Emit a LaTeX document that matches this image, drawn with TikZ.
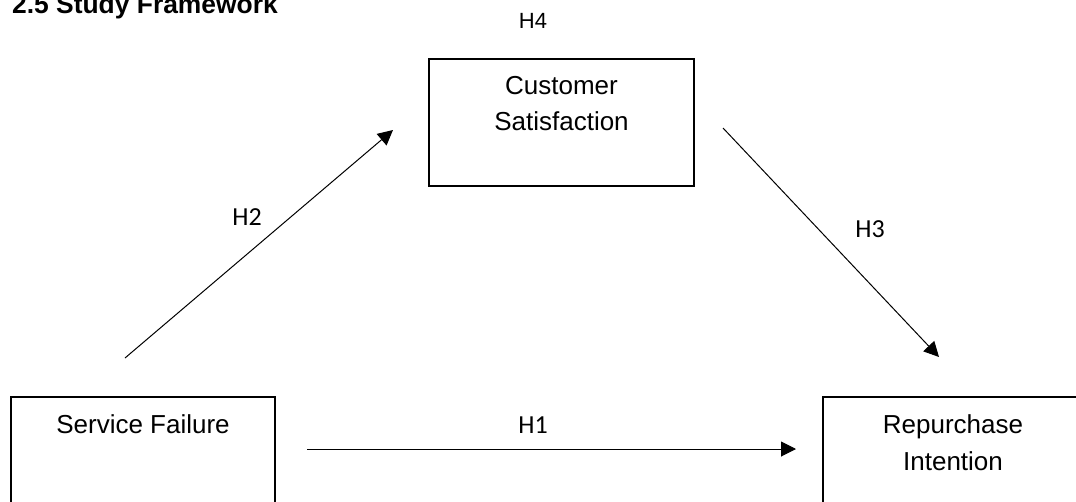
\documentclass[tikz,border=0pt]{standalone}
\usepackage{fontspec}
\setmainfont{Liberation Sans}
\newfontfamily\hfont{Carlito}
\usetikzlibrary{arrows.meta}
\begin{document}
\begin{tikzpicture}[x=1pt,y=-1pt,
  boxshape/.style={draw=black, line width=1.2pt, fill=none},
  boxtext/.style={anchor=base, inner sep=0pt, font=\fontsize{26}{30}\selectfont},
  hlabel/.style={anchor=base, inner sep=0pt, font=\hfont\fontsize{26}{30}\selectfont},
  arr/.style={draw=black, line width=1pt, -{Triangle[length=15pt,width=15pt]}}]
\useasboundingbox (0,0) rectangle (1076,501);
\clip (0,0) rectangle (1076,501);
% title
\node[anchor=base west, inner sep=0pt, font=\bfseries\fontsize{26.4}{30}\selectfont] (title) at (12,13) {2.5 Study Framework};
% boxes
\draw[boxshape] (429,59) rectangle (694,186);
\node[inner sep=0pt, minimum width=265pt, minimum height=127pt] (cs) at (561.5,122.5) {};
\draw[boxshape] (11,397) rectangle (275,560);
\node[inner sep=0pt, minimum width=264pt, minimum height=104pt] (sf) at (143,449) {};
\draw[boxshape] (823,397) rectangle (1100,560);
\node[inner sep=0pt, minimum width=253pt, minimum height=104pt] (ri) at (949.5,449) {};
% box texts
\node[boxtext] (cs1) at (561.5,94) {Customer};
\node[boxtext] (cs2) at (561.5,130) {Satisfaction};
\node[boxtext] (sf1) at (143,433) {Service Failure};
\node[boxtext] (ri1) at (953,433) {Repurchase};
\node[boxtext] (ri2) at (953,470) {Intention};
% connector ends
\coordinate (h1s) at (307,449);
\coordinate (h1e) at (796,449);
\coordinate (h2s) at (125,358);
\coordinate (h2e) at (393,130);
\coordinate (h3s) at (723,128);
\coordinate (h3e) at (939,357);
\draw[arr] (h1s) -- (h1e);
\draw[arr] (h2s) -- (h2e);
\draw[arr] (h3s) -- (h3e);
% labels
\node[hlabel] (lh1) at (533,433) {H1};
\node[hlabel] (lh2) at (247,225) {H2};
\node[hlabel] (lh3) at (870,237) {H3};
\node[anchor=base, inner sep=0pt, font=\fontsize{22}{26}\selectfont] (lh4) at (533,28) {H4};
\end{tikzpicture}
\end{document}
